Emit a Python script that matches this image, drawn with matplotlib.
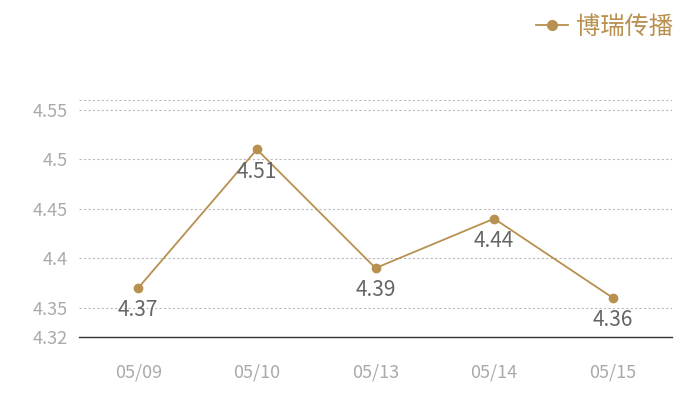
import numpy as np
import matplotlib.pyplot as plt
from matplotlib.lines import Line2D

plt.rcParams['font.family'] = ['Noto Sans CJK SC', 'DejaVu Sans']

dates = ["05/09", "05/10", "05/13", "05/14", "05/15"]
values = [4.37, 4.51, 4.39, 4.44, 4.36]
yticks = [4.32, 4.35, 4.4, 4.45, 4.5, 4.55]
ytick_labels = ["4.32", "4.35", "4.4", "4.45", "4.5", "4.55"]
series_name = "博瑞传播"

gold = "#b8904f"

fig = plt.figure(figsize=(7, 4), dpi=100)
ax = fig.add_axes([79/700, 62.7/400, 593/700, 237.3/400])

x = np.arange(len(dates))
ax.plot(x, values, color=gold, lw=1.3, marker="o", ms=6, zorder=3)
for xi, v in zip(x, values):
    ax.annotate(f"{v:.2f}", (xi, v), xytext=(0, -16), textcoords="offset points",
                ha="center", va="center", fontsize=15, color="#666666", zorder=4)

ax.set_xlim(-0.5, len(dates) - 0.5)
ax.set_ylim(4.32, 4.56)
ax.set_xticks(x)
ax.set_xticklabels(dates)
ax.set_yticks(yticks)
ax.set_yticklabels(ytick_labels)
ax.tick_params(axis="x", length=0, pad=19, labelsize=13, labelcolor="#aaaaaa")
ax.tick_params(axis="y", length=0, pad=8, labelsize=13, labelcolor="#aaaaaa")

for t in yticks[1:] + [4.56]:
    ax.axhline(t, color="#bbbbbb", lw=0.8, ls=(0, (2, 2)), zorder=1)

for s in ["top", "right", "left"]:
    ax.spines[s].set_visible(False)
ax.spines["bottom"].set_color("#333333")
ax.spines["bottom"].set_linewidth(1)

handle = Line2D([], [], color=gold, lw=1.3, marker="o", ms=7)
fig.legend([handle], [series_name], loc="upper right", bbox_to_anchor=(0.993, 1.02),
           frameon=False, fontsize=17.5, labelcolor=gold, handlelength=1.3,
           handletextpad=0.35)

fig.savefig("out.png", dpi=100)
